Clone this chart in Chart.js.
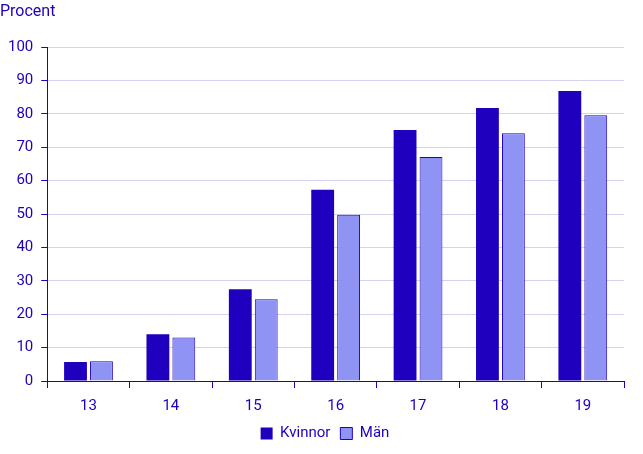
<!DOCTYPE html>
<html>
<head>
<meta charset="utf-8">
<script src="https://cdn.jsdelivr.net/npm/chart.js@4"></script>
<style>
  html, body { margin: 0; padding: 0; background: #fff; }
  #wrap { width: 643px; height: 454px; }
</style>
</head>
<body>
<div id="wrap"><canvas id="myChart" width="643" height="454"></canvas></div>
<script>
const ages = ['13', '14', '15', '16', '17', '18', '19'];
const kvinnor = [5.7, 14.0, 27.5, 57.3, 75.2, 81.8, 86.9];
const man = [5.9, 13.0, 24.5, 49.8, 67.1, 74.2, 79.6];

const textColor = '#1e00be';
const darkBlue = '#1e00be';
const lightBlue = '#8f94f4';
const gridColor = '#d4d2f0';

Chart.defaults.font.family = 'Roboto, sans-serif';
Chart.defaults.font.size = 15;
Chart.defaults.color = textColor;

// legend in the original is centred under the plot area, not the whole canvas
const shiftLegend = {
    id: 'shiftLegend',
    afterLayout(chart) {
        chart.legend.left += 26;
    }
};

const config = {
    type: 'bar',
    data: {
        labels: ages,
        datasets: [{
            label: 'Kvinnor',
            data: kvinnor,
            backgroundColor: darkBlue,
            borderColor: darkBlue,
            borderWidth: 0,
            categoryPercentage: 0.63,
            barPercentage: 0.88
        }, {
            label: 'Män',
            data: man,
            backgroundColor: lightBlue,
            borderColor: darkBlue,
            borderWidth: 1,
            categoryPercentage: 0.63,
            barPercentage: 0.88
        }]
    },
    options: {
        responsive: false,
        animation: false,
        layout: { padding: { left: 0, right: 19, top: 0, bottom: 3 } },
        plugins: {
            title: {
                display: true,
                text: 'Procent',
                align: 'start',
                color: textColor,
                font: { size: 16, weight: 'normal' },
                padding: { top: 2, bottom: 26 }
            },
            legend: {
                position: 'bottom',
                labels: {
                    boxWidth: 12,
                    boxHeight: 12,
                    padding: 10,
                    color: textColor,
                    font: { size: 15 }
                }
            },
            tooltip: { enabled: false }
        },
        scales: {
            x: {
                grid: {
                    offset: true,
                    drawOnChartArea: false,
                    tickLength: 7,
                    tickColor: darkBlue
                },
                border: { color: darkBlue, width: 1 },
                ticks: { padding: 9, color: textColor },
                afterFit: function (scale) {
                    scale.height -= 8; // let the plot run a bit lower, as in the original
                }
            },
            y: {
                min: 0,
                max: 100,
                ticks: { stepSize: 10, padding: 8, color: textColor },
                grid: {
                    color: gridColor,
                    tickColor: darkBlue,
                    tickLength: 6
                },
                border: { color: darkBlue, width: 1 }
            }
        }
    },
    plugins: [shiftLegend]
};

const myChart = new Chart(document.getElementById('myChart'), config);
</script>
</body>
</html>
